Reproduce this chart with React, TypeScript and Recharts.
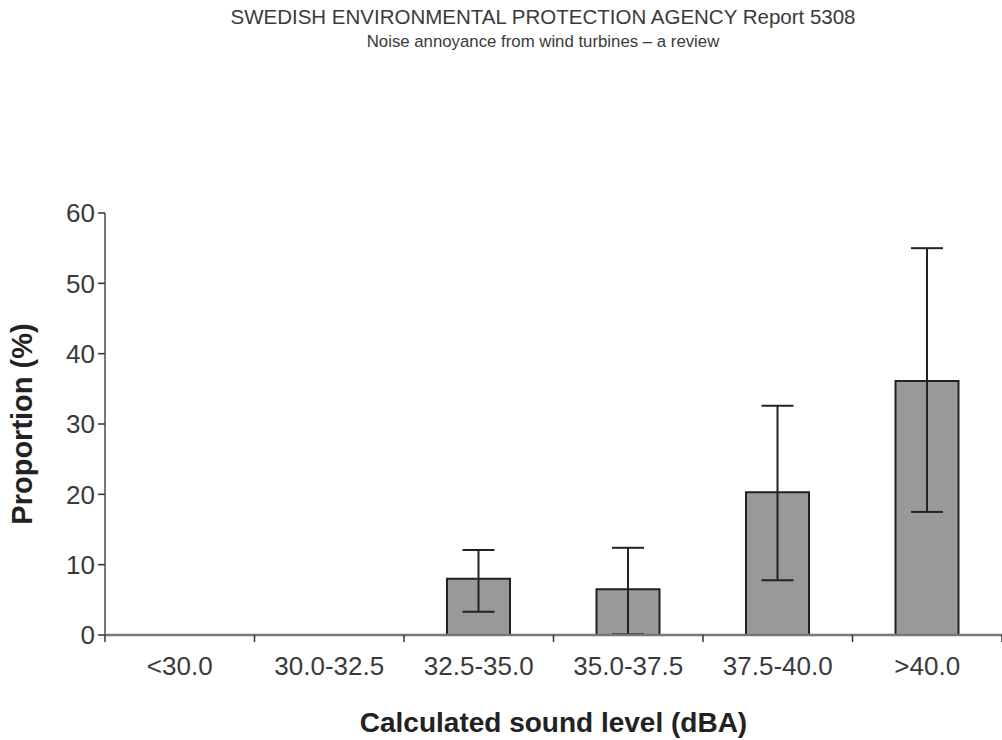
import { BarChart, Bar, XAxis, YAxis, ErrorBar, Label } from "recharts";

const categories = ["<30.0", "30.0-32.5", "32.5-35.0", "35.0-37.5", "37.5-40.0", ">40.0"];
const proportion: (number | null)[] = [null, null, 8.0, 6.5, 20.3, 36.1];
const lowerBound: (number | null)[] = [null, null, 3.3, 0.1, 7.8, 17.5];
const upperBound: (number | null)[] = [null, null, 12.1, 12.4, 32.6, 55.0];
const yTicks = [0, 10, 20, 30, 40, 50, 60];
const edgeTicks = [0, 1, 2, 3, 4, 5, 6];

const data = categories.map((name, i) => {
  const v = proportion[i];
  const lo = lowerBound[i];
  const hi = upperBound[i];
  return {
    name,
    pos: i + 0.5,
    value: v,
    err: v != null && lo != null && hi != null ? [v - lo, hi - v] : null,
  };
});

const font = "'Liberation Sans', Arial, sans-serif";
const textColor = "#3a3a3a";
const axisColor = "#777";

export default function App() {
  return (
    <div style={{ position: "absolute", left: 0, top: 0, width: 1002, height: 740, background: "#fff", fontFamily: font }}>
      <div style={{ position: "absolute", top: 5, left: 0, width: 1086, textAlign: "center", color: textColor }}>
        <div style={{ fontSize: 20.5, lineHeight: "24px" }}>SWEDISH ENVIRONMENTAL PROTECTION AGENCY Report 5308</div>
        <div style={{ fontSize: 16.8, lineHeight: "26px" }}>Noise annoyance from wind turbines – a review</div>
      </div>
      <BarChart width={1002} height={740} data={data} margin={{ top: 213, right: 0, left: 0, bottom: 0 }}>
        {/* boundary ticks between categories, Excel style (id 0 sits next to the plot) */}
        <XAxis
          type="number"
          dataKey="pos"
          domain={[0, 6]}
          allowDataOverflow
          ticks={edgeTicks}
          interval={0}
          height={1}
          axisLine={{ stroke: axisColor, strokeWidth: 2.5 }}
          tickLine={{ stroke: "#333", strokeWidth: 1.5 }}
          tickSize={7}
          tick={{ fontSize: 0 }}
          tickFormatter={() => ""}
        />
        <XAxis
          xAxisId="cat"
          dataKey="name"
          height={104}
          axisLine={false}
          tickLine={false}
          interval={0}
          tick={{ fontSize: 26, fill: textColor, fontFamily: font }}
          tickMargin={15}
        >
          <Label
            value="Calculated sound level (dBA)"
            position="insideBottom"
            offset={8}
            style={{ fontSize: 28, fontWeight: "bold", fill: "#222", fontFamily: font }}
          />
        </XAxis>
        <YAxis
          width={105}
          domain={[0, 60]}
          ticks={yTicks}
          axisLine={{ stroke: axisColor, strokeWidth: 2 }}
          tickLine={{ stroke: "#333", strokeWidth: 1.5 }}
          tickSize={7}
          tickMargin={3}
          tick={{ fontSize: 26, fill: textColor, fontFamily: font }}
        >
          <Label
            value="Proportion (%)"
            angle={-90}
            position="insideLeft"
            offset={22}
            style={{ textAnchor: "middle", fontSize: 29, fontWeight: "bold", fill: "#222", fontFamily: font }}
          />
        </YAxis>
        <Bar xAxisId="cat" dataKey="value" fill="#999999" stroke="#222" strokeWidth={2} barSize={63} isAnimationActive={false}>
          <ErrorBar dataKey="err" width={16} stroke="#222" strokeWidth={2} direction="y" />
        </Bar>
      </BarChart>
    </div>
  );
}
